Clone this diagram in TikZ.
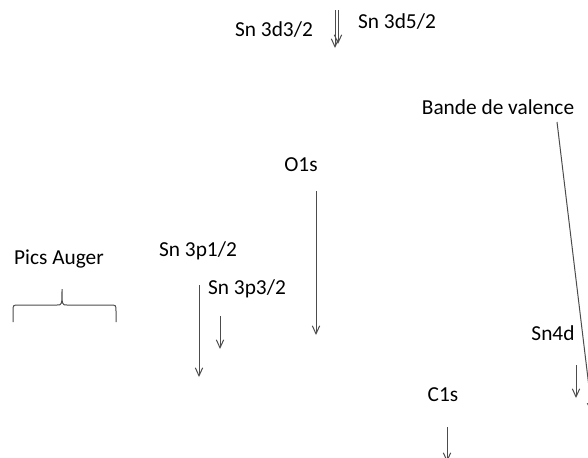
\documentclass[tikz,border=0pt]{standalone}
\usepackage{fontspec}
\setsansfont{Carlito}
\usetikzlibrary{arrows.meta}

\begin{document}
\begin{tikzpicture}[
    x=0.75pt, y=-0.75pt,
    font=\sffamily\fontsize{16}{19}\selectfont,
    lab/.style={inner sep=0pt, text=black},
    peak/.style={draw=black!70, line width=0.75pt,
                 -{Straight Barb[length=6pt,width=5.5pt]}},
    brc/.style={draw=black!70, line width=0.75pt},
]
\path[use as bounding box, clip] (0,0) rectangle (588,457);

% ---- peak labels ----
\node[lab] (dtrois) at (274,30)  {Sn 3d3/2};
\node[lab] (dcinq)  at (397,22)  {Sn 3d5/2};
\node[lab] (bv)     at (498,107) {Bande de valence};
\node[lab] (oun)    at (301,165) {O1s};
\node[lab] (auger)  at (59,259)  {Pics Auger};
\node[lab] (pun)    at (198,251) {Sn 3p1/2};
\node[lab] (ptrois) at (247,289) {Sn 3p3/2};
\node[lab] (quatd)  at (553,333) {Sn4d};
\node[lab] (cun)    at (443,395) {C1s};

% ---- arrows pointing at the peaks ----
\foreach \n/\x/\ya/\yb in {dA/335/10/48, dB/338/10/44, O/316/191/335,
                           pA/199/285/377, pB/220/316/349,
                           snd/576/365/398, C/447/427/462} {
    \coordinate (\n s) at (\x,\ya);
    \coordinate (\n e) at (\x,\yb);
    \draw[peak] (\n s) -- (\n e);
}

% valence band: slanted arrow leaving the frame
\coordinate (bvs) at (557,122);
\coordinate (bve) at (592,412);
\draw[peak] (bvs) -- (bve);

% brace under the Auger label
\coordinate (augL) at (13,322);
\coordinate (augT) at (62,289);
\coordinate (augR) at (116,322);
\draw[brc] (augL) -- (13,311) .. controls (13,305) .. (19,305) -- (57,305)
    .. controls (62,305) .. (augT) .. controls (62,305) .. (67,305)
    -- (110,305) .. controls (116,305) .. (116,311) -- (augR);
\end{tikzpicture}
\end{document}
